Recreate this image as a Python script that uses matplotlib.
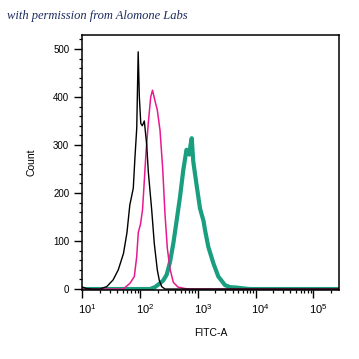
import numpy as np
import matplotlib
matplotlib.use("Agg")
import matplotlib.pyplot as plt
import matplotlib.transforms as mtransforms
from matplotlib.ticker import LogLocator, MultipleLocator, LogFormatterSciNotation, NullFormatter

plt.rcParams["font.family"] = ["Liberation Sans", "DejaVu Sans"]
plt.rcParams["mathtext.fontset"] = "custom"
plt.rcParams["mathtext.rm"] = "Liberation Sans"

# histogram traces, x given as log10(FITC-A), y as event count
black_log = [1.00, 1.07, 1.17, 1.30, 1.42, 1.53, 1.62, 1.71, 1.77, 1.82, 1.88, 1.91,
             1.94, 1.965, 1.985, 2.01, 2.036, 2.071, 2.113, 2.14, 2.199, 2.244,
             2.296, 2.331, 2.373, 2.43, 5.45]
black_cnt = [4, 1, 0, 0, 5, 19, 40, 74, 117, 175, 210, 276,
             335, 494, 400, 345, 340, 350, 300, 245, 165, 95,
             40, 18, 5, 0, 0]

pink_log = [1.00, 1.707, 1.823, 1.898, 1.939, 1.967, 2.005, 2.04, 2.066, 2.101, 2.14,
            2.182, 2.213, 2.256, 2.296, 2.343, 2.39, 2.43, 2.47, 2.516, 2.574,
            2.655, 2.776, 2.863, 5.45]
pink_cnt = [0, 0, 12, 26, 67, 118, 135, 165, 215, 285, 345,
            400, 414, 392, 373, 331, 250, 155, 85, 42, 14,
            4, 1, 0, 0]

teal_log = [1.00, 2.17, 2.256, 2.343, 2.40, 2.459, 2.516, 2.574, 2.633, 2.69, 2.747,
            2.802, 2.828, 2.851, 2.872, 2.893, 2.92, 2.979, 3.036, 3.066, 3.097,
            3.123, 3.18, 3.267, 3.354, 3.47, 3.556, 3.672, 3.816, 3.903, 5.45]
teal_cnt = [0, 0, 4, 12, 18, 30, 56, 95, 144, 192, 248,
            290, 285, 280, 300, 314, 265, 215, 168, 155, 142,
            123, 88, 54, 26, 8, 4, 3, 1, 0, 0]

fig = plt.figure(figsize=(3.59, 3.59), dpi=100)
ax = fig.add_axes([0.2298, 0.1922, 0.7145, 0.7103])

ax.plot(10 ** np.array(teal_log), teal_cnt, color="#1a9e80", lw=3.0)
ax.plot(10 ** np.array(pink_log), pink_cnt, color="#e8198f", lw=1.1)
ax.plot(10 ** np.array(black_log), black_cnt, color="black", lw=1.0)

ax.set_xscale("log")
ax.set_xlim(10 ** 1.0, 10 ** 5.445)
ax.set_ylim(-2, 529)

ax.xaxis.set_major_locator(LogLocator(base=10, numticks=10))
ax.xaxis.set_minor_locator(LogLocator(base=10, subs=np.arange(2, 10), numticks=20))
ax.xaxis.set_major_formatter(LogFormatterSciNotation())
ax.xaxis.set_minor_formatter(NullFormatter())
ax.yaxis.set_major_locator(MultipleLocator(100))
ax.yaxis.set_minor_locator(MultipleLocator(20))

ax.tick_params(which="major", length=5.5, width=1.0, pad=4)
ax.tick_params(which="minor", length=2.2, width=0.9)
ax.tick_params(axis="y", labelsize=7)
ax.tick_params(axis="x", labelsize=8, pad=3)
for s in ax.spines.values():
    s.set_linewidth(1.1)

# x tick labels sit a little to the right of their ticks in the original
shift = mtransforms.ScaledTranslation(5 / 100, 0, fig.dpi_scale_trans)
for lbl in ax.get_xticklabels():
    lbl.set_transform(lbl.get_transform() + shift)

ax.set_xlabel("FITC-A", fontsize=7.5, labelpad=9)
ax.set_ylabel("Count", fontsize=7.5, labelpad=12)

fig.text(0.02, 0.955, "with permission from Alomone Labs", fontsize=9,
         family="Liberation Serif", style="italic", color="#1b2a5e", va="center")

fig.savefig("out.png", dpi=100)
